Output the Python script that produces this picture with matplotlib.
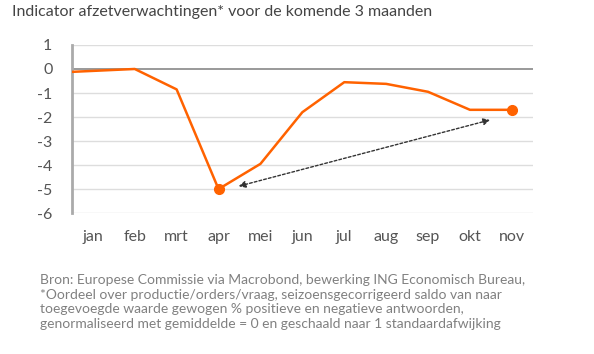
import matplotlib
matplotlib.use('Agg')
import matplotlib.pyplot as plt
import numpy as np

plt.rcParams['font.family'] = ['Lato', 'DejaVu Sans']
plt.rcParams['axes.unicode_minus'] = False

# maanden (dec = laatste punt van vorig jaar, valt net buiten de as)
maanden = ['jan', 'feb', 'mrt', 'apr', 'mei', 'jun', 'jul', 'aug', 'sep', 'okt', 'nov']
dec_vorig_jaar = -0.16
waarden = [-0.08, 0.0, -0.85, -5.0, -3.95, -1.8, -0.55, -0.62, -0.95, -1.7, -1.7]
# pijl tussen dieptepunt en laatste stand
pijl_van = (3.48, -4.88)
pijl_naar = (9.48, -2.12)

oranje = '#FF6200'
grijs_tekst = '#555555'

fig = plt.figure(figsize=(5.94, 3.54), dpi=100)
ax = fig.add_axes([0.121, 0.398, 0.776, 0.475])

x = np.arange(-1, len(maanden))
y = [dec_vorig_jaar] + waarden
ax.plot(x, y, color=oranje, linewidth=1.8, zorder=3)
# punten op dieptepunt (apr) en laatste maand (nov)
for i in [3, len(maanden) - 1]:
    ax.plot(i, waarden[i], 'o', color=oranje, markersize=7, zorder=4)

ax.annotate('', xy=pijl_naar, xytext=pijl_van,
            arrowprops=dict(arrowstyle='<|-|>', linestyle=(0, (2, 1.5)), color='#333333',
                            linewidth=1, mutation_scale=10, shrinkA=0, shrinkB=0))

ax.set_xlim(-0.5, len(maanden) - 0.5)
ax.set_ylim(-6, 1)
ax.set_yticks(range(-6, 2))
ax.set_xticks(range(len(maanden)))
ax.set_xticklabels(maanden)

for yy in range(-6, 2):
    ax.axhline(yy, color='#888888' if yy == 0 else '#dddddd', linewidth=1.2 if yy == 0 else 1, zorder=1)

for s in ['top', 'right', 'bottom']:
    ax.spines[s].set_visible(False)
ax.spines['left'].set_color('#aaaaaa')
ax.spines['left'].set_linewidth(2)
ax.tick_params(axis='both', length=0, labelsize=11.5, colors=grijs_tekst)
ax.tick_params(axis='x', pad=12)
ax.tick_params(axis='y', pad=14)

fig.text(0.02, 0.965, 'Indicator afzetverwachtingen* voor de komende 3 maanden',
         fontsize=11.5, color='#444444', va='center')

voetnoot = ('Bron: Europese Commissie via Macrobond, bewerking ING Economisch Bureau,\n'
            '*Oordeel over productie/orders/vraag, seizoensgecorrigeerd saldo van naar\n'
            'toegevoegde waarde gewogen % positieve en negatieve antwoorden,\n'
            'genormaliseerd met gemiddelde = 0 en geschaald naar 1 standaardafwijking')
fig.text(0.067, 0.225, voetnoot, fontsize=10, color='#808080', va='top', linespacing=1.25)

fig.savefig('out.png', dpi=100)
